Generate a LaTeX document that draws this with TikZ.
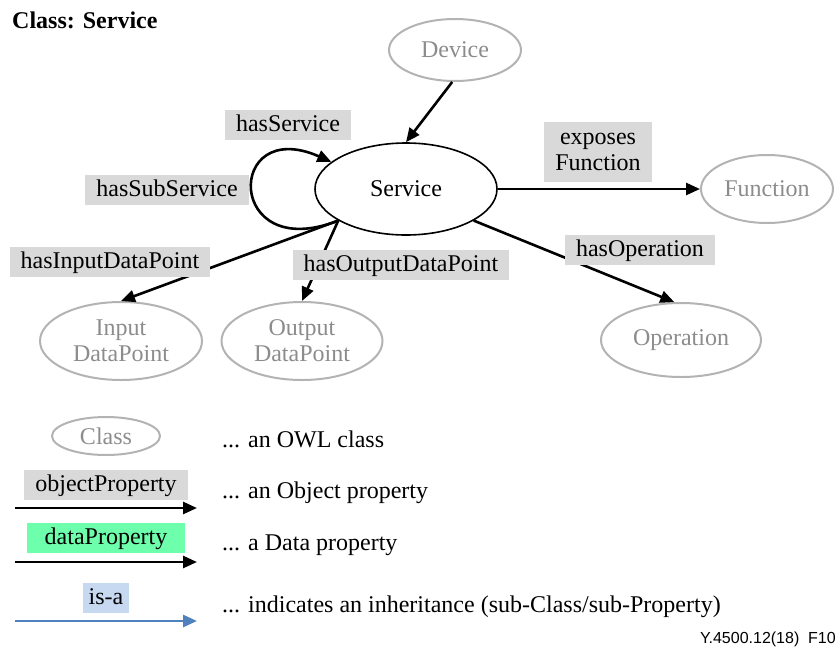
\documentclass[tikz,border=0pt]{standalone}
\usepackage{fontspec}
\setmainfont{Liberation Serif}
\newfontfamily\footfont{Liberation Sans}
\usetikzlibrary{shapes.geometric,arrows.meta}
\definecolor{lblgray}{HTML}{D9D9D9}
\definecolor{lblgreen}{HTML}{6DFFAB}
\definecolor{lblblue}{HTML}{C6D9F0}
\definecolor{isablue}{HTML}{4F81BD}
\definecolor{clsline}{HTML}{B3B3B3}
\definecolor{clstext}{HTML}{8C8C8C}
\begin{document}
\begin{tikzpicture}[x=1pt,y=-1pt,font=\fontsize{24}{26}\selectfont,
  cls/.style={ellipse,draw=clsline,line width=2pt,text=clstext,inner sep=0pt,align=center},
  svcstyle/.style={ellipse,draw=black,line width=1.6pt,inner sep=0pt},
  lab/.style={fill=lblgray,inner xsep=11pt,inner ysep=0pt,minimum height=30pt,text height=17pt,text depth=5pt},
  labtwo/.style={fill=lblgray,inner xsep=11pt,inner ysep=5pt,align=center,minimum height=60pt},
  edge/.style={line width=2.6pt,-{Triangle[length=14pt,width=12pt]}},
  desc/.style={anchor=base west,inner sep=0pt}
]
\useasboundingbox (0,0) rectangle (838,646);

% title
\node[anchor=base west,inner sep=0pt,font=\fontsize{24}{26}\selectfont\bfseries] (title) at (12,28) {Class: Service};

% class nodes
\node[svcstyle,minimum width=182pt,minimum height=92pt] (svc) at (406,189) {Service};
\node[cls,minimum width=132pt,minimum height=62pt] (dev) at (455,50) {Device};
\node[cls,minimum width=132pt,minimum height=68pt] (fun) at (767,189) {Function};
\node[cls,minimum width=160pt,minimum height=74pt] (op) at (681,340) {Operation};
\node[cls,minimum width=162pt,minimum height=78pt] (inp) at (121,341) {Input\\DataPoint};
\node[cls,minimum width=161pt,minimum height=78pt] (outp) at (302,341) {Output\\DataPoint};

% edges
\draw[edge] (dev.265) -- (svc.north);
\draw[edge] (svc.east) -- (fun.west);
\draw[edge] (svc.-25) -- (op.100);
\draw[edge] (svc.205) -- (inp.north);
\draw[edge] (svc.205) -- (outp.north);
\draw[edge] (svc.205) .. controls (225,265) and (225,115) .. (svc.160);

% edge labels
\node[lab] (lsvc) at (288,125) {hasService};
\node[lab] (lsub) at (167,190) {hasSubService};
\node[labtwo] (lexp) at (598,152) {exposes\\Function};
\node[lab] (lop) at (640,250) {hasOperation};
\node[lab] (lin) at (110,262) {hasInputDataPoint};
\node[lab] (lout) at (401,265) {hasOutputDataPoint};

% legend
\node[cls,minimum width=108pt,minimum height=38pt] (lcls) at (106,436) {Class};
\node[desc] (dcls) at (222,447) {... an OWL class};

\node[lab,minimum width=158pt] (lobj) at (106,485) {objectProperty};
\coordinate (oa1) at (15,508);
\coordinate (oa2) at (197,508);
\draw[edge] (oa1) -- (oa2);
\node[desc] (dobj) at (222,498) {... an Object property};

\node[lab,fill=lblgreen,minimum width=158pt] (ldat) at (106,538) {dataProperty};
\coordinate (da1) at (15,562);
\coordinate (da2) at (197,562);
\draw[edge] (da1) -- (da2);
\node[desc] (ddat) at (222,550) {... a Data property};

\node[lab,fill=lblblue,inner xsep=6pt] (lisa) at (106,598) {is-a};
\coordinate (ia1) at (15,621);
\coordinate (ia2) at (197,621);
\draw[edge,draw=isablue,fill=isablue] (ia1) -- (ia2);
\node[desc] (disa) at (222,612) {... indicates an inheritance (sub-Class/sub-Property)};

% footnote
\node[anchor=base east,inner sep=0pt,font=\footfont\fontsize{16}{18}\selectfont] (foot) at (836,643) {Y.4500.12(18)\ \ F10};
\end{tikzpicture}
\end{document}
